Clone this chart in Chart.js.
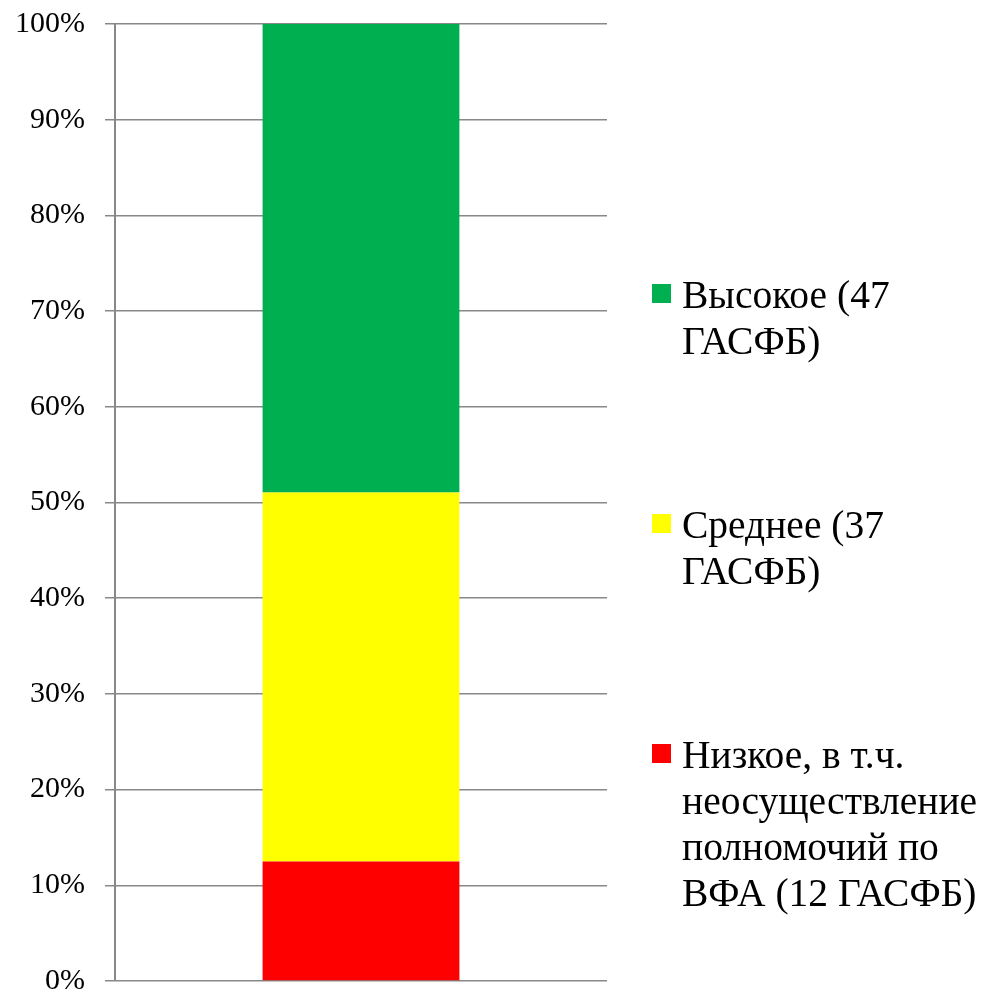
<!DOCTYPE html>
<html>
<head>
<meta charset="utf-8">
<script src="https://cdn.jsdelivr.net/npm/chart.js@4/dist/chart.umd.min.js"></script>
<style>
  html, body { margin: 0; padding: 0; background: #fff; }
  #wrap { width: 984px; height: 992px; }
</style>
</head>
<body>
<div id="wrap"><canvas id="grafico"></canvas></div>
<script>
// Dados do gráfico (contagem de ГАСФБ por nível)
const categorias = [''];
const series = ['Низкое, в т.ч. неосуществление полномочий по ВФА (12 ГАСФБ)', 'Среднее (37 ГАСФБ)', 'Высокое (47 ГАСФБ)'];
const linhasLegenda = [
    ['Низкое, в т.ч.', 'неосуществление', 'полномочий по', 'ВФА (12 ГАСФБ)'],
    ['Среднее (37', 'ГАСФБ)'],
    ['Высокое (47', 'ГАСФБ)']
];
const contagens = [12, 37, 47];
const cores = ['#ff0000', '#ffff00', '#00b050'];
const ticksY = ['0%', '10%', '20%', '30%', '40%', '50%', '60%', '70%', '80%', '90%', '100%'];

const total = contagens.reduce((a, b) => a + b, 0);

// Legenda desenhada à mão (texto em várias linhas, à direita)
const legendaPlugin = {
    id: 'legendaDireita',
    afterDraw(chart) {
        const ctx = chart.ctx;
        ctx.save();
        ctx.font = '39.5px "Liberation Serif", "Times New Roman", serif';
        ctx.textBaseline = 'alphabetic';
        ctx.textAlign = 'left';
        // ordem invertida: verde em cima
        const ordem = [2, 1, 0];
        ordem.forEach((i, k) => {
            const base = 308 + k * 230;
            ctx.fillStyle = cores[i];
            ctx.fillRect(652, base - 24, 19, 19);
            ctx.fillStyle = '#000';
            linhasLegenda[i].forEach((linha, j) => {
                ctx.fillText(linha, 682, base + j * 46);
            });
        });
        ctx.restore();
    }
};

const ctx = document.getElementById('grafico').getContext('2d');
new Chart(ctx, {
    type: 'bar',
    data: {
        labels: categorias,
        datasets: series.map((nome, i) => ({
            label: nome,
            data: [contagens[i] / total * 100],
            backgroundColor: cores[i],
            borderWidth: 0,
            categoryPercentage: 1,
            barPercentage: 0.4
        }))
    },
    options: {
        responsive: true,
        maintainAspectRatio: false,
        animation: false,
        layout: {
            padding: { top: 24, right: 377, bottom: 11, left: 0 }
        },
        plugins: {
            legend: { display: false },
            tooltip: { enabled: false }
        },
        scales: {
            x: {
                stacked: true,
                display: false
            },
            y: {
                stacked: true,
                min: 0,
                max: 100,
                afterFit(scale) {
                    scale.width = 115;
                    scale.paddingTop = 0;
                    scale.paddingBottom = 0;
                },
                ticks: {
                    stepSize: 10,
                    padding: 20,
                    color: '#000',
                    font: { family: '"Liberation Serif", "Times New Roman", serif', size: 30 },
                    callback: (v) => ticksY[Math.round(v / 10)]
                },
                grid: {
                    color: '#888888',
                    lineWidth: 1.5,
                    tickLength: 10,
                    drawTicks: true
                },
                border: {
                    display: true,
                    color: '#888888',
                    width: 2
                }
            }
        }
    },
    plugins: [legendaPlugin]
});
</script>
</body>
</html>
